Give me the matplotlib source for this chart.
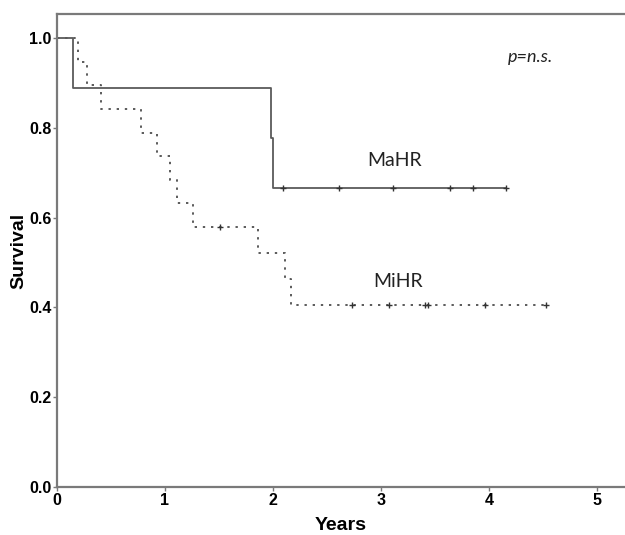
import matplotlib
matplotlib.use('Agg')
import matplotlib.pyplot as plt

# MaHR group: event times and survival (Kaplan-Meier steps)
mahr_time = [0.0, 0.15, 1.98, 2.00, 4.16]
mahr_surv = [1.0, 0.889, 0.778, 0.667, 0.667]
mahr_cens_time = [2.09, 2.61, 3.11, 3.64, 3.85, 4.16]
mahr_cens_surv = [0.667, 0.667, 0.667, 0.667, 0.667, 0.667]

# MiHR group
mihr_time = [0.0, 0.19, 0.28, 0.41, 0.78, 0.93, 1.05, 1.11, 1.26, 1.86, 2.11, 2.17, 4.53]
mihr_surv = [1.0, 0.947, 0.895, 0.842, 0.789, 0.737, 0.684, 0.632, 0.579, 0.521, 0.463, 0.405, 0.405]
mihr_cens_time = [1.51, 2.73, 3.07, 3.41, 3.44, 3.96, 4.53]
mihr_cens_surv = [0.579, 0.405, 0.405, 0.405, 0.405, 0.405, 0.405]

xticks = [0, 1, 2, 3, 4, 5]
yticks = [0.0, 0.2, 0.4, 0.6, 0.8, 1.0]

line_col = '#5a5a5a'
axis_col = '#7a7a7a'

fig = plt.figure(figsize=(6.25, 5.35), dpi=100)
ax = fig.add_axes([0.0912, 0.0897, 0.9088, 0.8841])

ax.step(mahr_time, mahr_surv, where='post', color=line_col, lw=1.3)
ax.step(mihr_time, mihr_surv, where='post', color=line_col, lw=1.4,
        linestyle=(0, (1.2, 3.0)))
ax.plot(mahr_cens_time, mahr_cens_surv, '+', color='#333333', ms=5, mew=1.0)
ax.plot(mihr_cens_time, mihr_cens_surv, '+', color='#333333', ms=5, mew=1.0)

ax.text(3.13, 0.727, 'MaHR', fontsize=14, family='Lato', color='#222222',
        ha='center', va='center')
ax.text(3.16, 0.457, 'MiHR', fontsize=14, family='Lato', color='#222222',
        ha='center', va='center')
ax.text(4.38, 0.958, 'p=n.s.', fontsize=13, family='Lato', style='italic',
        color='#222222', ha='center', va='center')

ax.set_xlim(0, 5.26)
ax.set_ylim(0, 1.0535)
ax.set_xticks(xticks)
ax.set_yticks(yticks)
ax.set_xticklabels([str(v) for v in xticks], fontweight='bold',
                   family='Liberation Sans', fontsize=11.5)
ax.set_yticklabels(['{:.1f}'.format(v) for v in yticks], fontweight='bold',
                   family='Liberation Sans', fontsize=11.5)
ax.tick_params(axis='both', length=3, width=1, color=axis_col, pad=1)

for side in ['left', 'bottom', 'top']:
    ax.spines[side].set_color(axis_col)
    ax.spines[side].set_linewidth(1.6)
ax.spines['right'].set_visible(False)

ax.set_xlabel('Years', fontweight='bold', family='Liberation Sans', fontsize=14,
              labelpad=7)
ax.set_ylabel('Survival', fontweight='bold', family='Liberation Sans', fontsize=14,
              labelpad=1)

fig.savefig('out.png', dpi=100)
